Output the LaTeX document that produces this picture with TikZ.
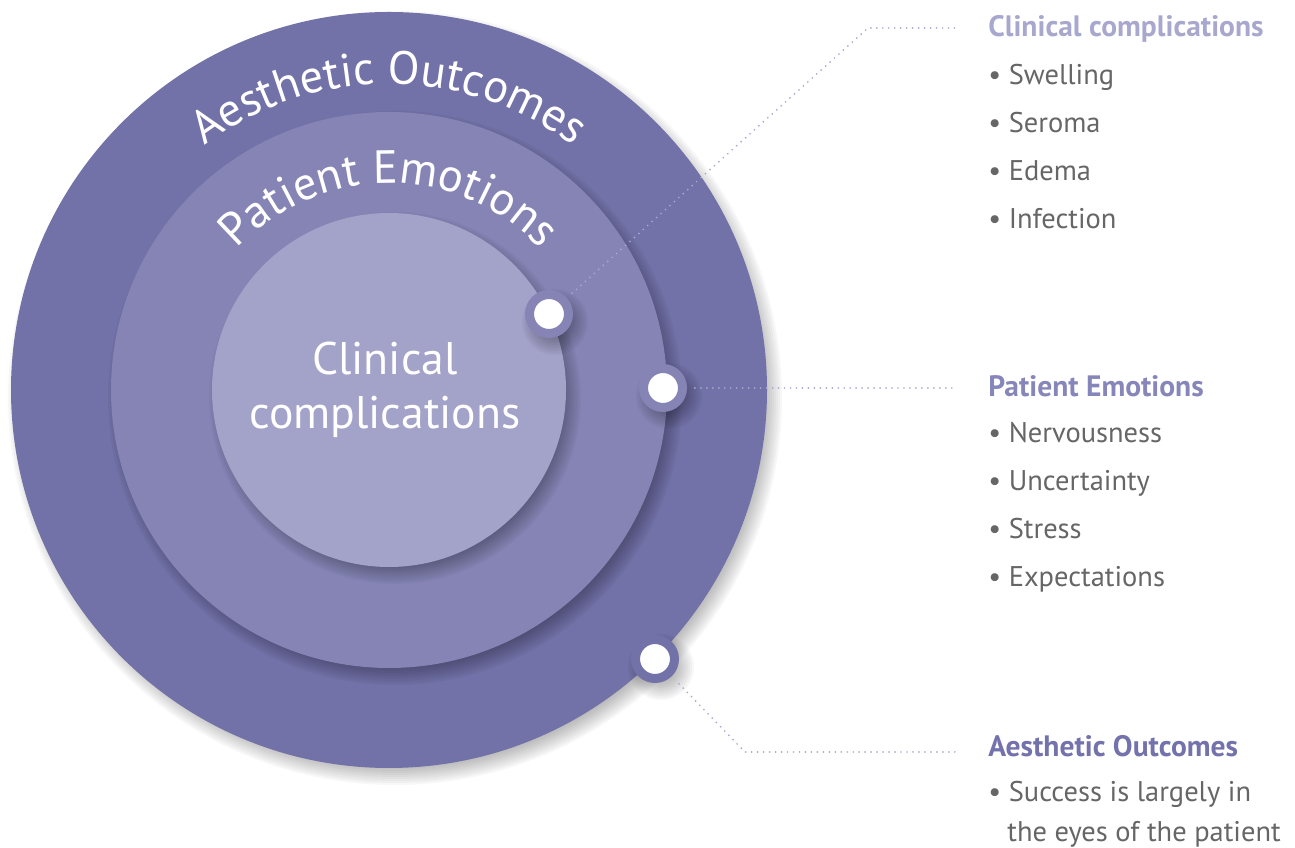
\documentclass[tikz,border=0pt]{standalone}
\usepackage{fontspec}
\setmainfont{PT Sans}
\usetikzlibrary{decorations.text}

\definecolor{ringout}{HTML}{7271A8}
\definecolor{ringmid}{HTML}{8584B5}
\definecolor{ringin}{HTML}{A3A2C9}
\definecolor{dotline}{HTML}{A9A8CF}
\definecolor{headone}{HTML}{A8A7CE}
\definecolor{headtwo}{HTML}{8786BA}
\definecolor{headthree}{HTML}{7372AD}
\definecolor{bodygray}{HTML}{666666}

% soft shadow under a disc: #1 = centre coordinate, #2 = radius
\newcommand\softshadow[2]{%
  \foreach \k in {0,...,9}
    \fill[black,opacity=0.03] ([shift={(6,-8)}]#1) circle ({#2+9-2*\k});}
\newcommand\arcfont{\fontsize{26.5}{26.5}\selectfont\color{white}}

\begin{document}
\begin{tikzpicture}[
            x = 0.02cm, y = 0.02cm, % one unit per pixel
            heading/.style = {anchor=base west, inner sep=0pt,
                              font=\fontsize{16.8}{19}\selectfont\bfseries},
            item/.style = {anchor=base west, inner sep=0pt, text=bodygray,
                           font=\fontsize{16.2}{19}\selectfont},
            leader/.style = {dotline, line width=1.1pt, line cap=round,
                             dash pattern=on 0pt off 3.4pt},
            knob/.style = {circle, fill=white, line width=0.18cm,
                           minimum size=0.78cm, inner sep=0pt}
        ]

	\useasboundingbox (0,0) rectangle (1295,848);
	\coordinate (c) at (389,458);

	% three nested rings
	\softshadow{c}{378}
	\fill[ringout] (c) circle (378);
	\softshadow{c}{278}
	\fill[ringmid] (c) circle (278);
	\softshadow{c}{177}
	\fill[ringin] (c) circle (177);

	% curved ring titles
	\path[decorate, decoration={text along path, text align=center,
	      text={|\arcfont|Aesthetic Outcomes}}]
	      ([shift={(180:306)}]c) arc[start angle=180, end angle=0, radius=306];
	\path[decorate, decoration={text along path, text align=center,
	      text={|\arcfont|Patient Emotions}}]
	      ([shift={(180:207)}]c) arc[start angle=180, end angle=0, radius=207];

	\node[text=white, align=center, font=\fontsize{26}{31}\selectfont]
	      (core) at (385,458) {Clinical\\complications};

	% knobs on the ring edges
	\coordinate (p1) at (549,534);
	\coordinate (p2) at (663,460);
	\coordinate (p3) at (655,189);
	\softshadow{p1}{24}
	\softshadow{p2}{24}
	\softshadow{p3}{24}
	\node[knob, draw=ringmid] (d1) at (p1) {};
	\node[knob, draw=ringmid] (d2) at (p2) {};
	\node[knob, draw=ringout] (d3) at (p3) {};

	% side lists
	\node[heading, text=headone] (h1) at (988,811) {Clinical complications};
	\foreach \t [count=\i] in {Swelling, Seroma, Edema, Infection}
		\node[item] (cc\i) at (988,{763-47.7*(\i-1)}) {\textbullet\ \t};

	\node[heading, text=headtwo] (h2) at (988,451) {Patient Emotions};
	\foreach \t [count=\i] in {Nervousness, Uncertainty, Stress, Expectations}
		\node[item] (pe\i) at (988,{405-48*(\i-1)}) {\textbullet\ \t};

	\node[heading, text=headthree] (h3) at (988,91) {Aesthetic Outcomes};
	\node[item] (ao1) at (988,46) {\textbullet\ Success is largely in};
	\node[item] (ao2) at (1007,6) {the eyes of the patient};

	% dotted leaders
	\coordinate (k1) at (868,820);
	\coordinate (e1) at (956,820);
	\coordinate (e2) at (956,460);
	\coordinate (k3) at (745,96);
	\coordinate (e3) at (956,96);
	\draw[leader, shorten <=4pt] (d1) -- (k1) -- (e1);
	\draw[leader, shorten <=4.5pt] (d2) -- (e2);
	\draw[leader, shorten <=6pt] (d3) -- (k3) -- (e3);

\end{tikzpicture}
\end{document}
